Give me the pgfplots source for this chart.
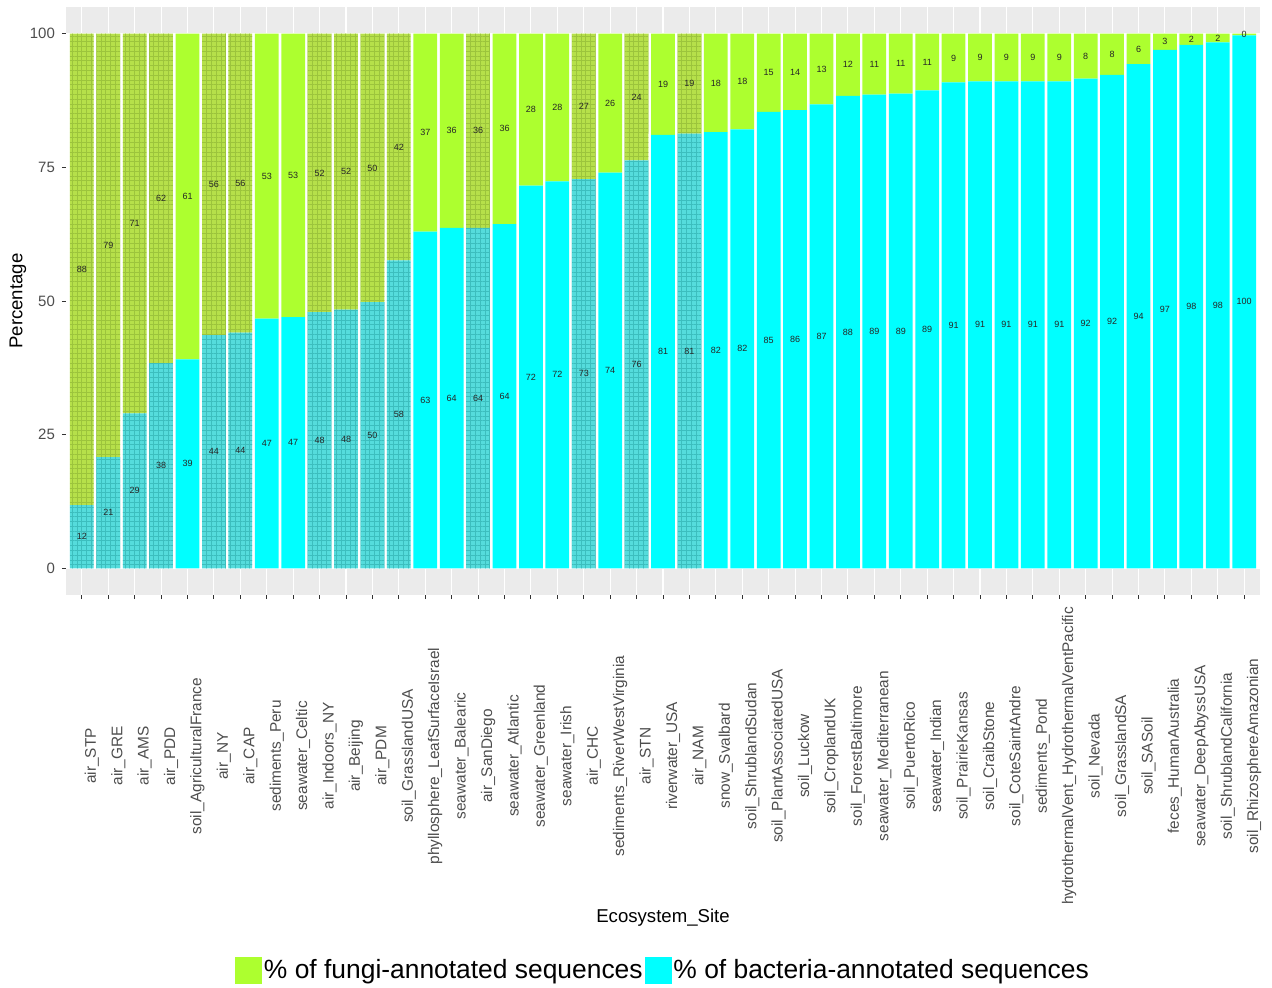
\documentclass[border=0pt]{standalone}
\usepackage{fontspec}
\setmainfont{Liberation Sans}
\usepackage{pgfplots}
\pgfplotsset{compat=1.18}
\usepackage{pgfplotstable}
\usetikzlibrary{patterns.meta}
\definecolor{fgreen}{HTML}{ADFF2F}
\definecolor{bcyan}{HTML}{00FFFF}
\definecolor{tgreen}{HTML}{B6E04A}
\definecolor{tgreenp}{HTML}{9CC43C}
\definecolor{tcyan}{HTML}{55DCDC}
\definecolor{tcyanp}{HTML}{3CBEBE}
\definecolor{panel}{HTML}{EBEBEB}
\definecolor{axtext}{HTML}{4D4D4D}
\pgfplotstableread{
x bac fun lb lf tex
0 11.8 88.2 12 88 1
1 20.8 79.2 21 79 1
2 29.0 71.0 29 71 1
3 38.4 61.6 38 62 1
4 39.1 60.9 39 61 0
5 43.6 56.4 44 56 1
6 44.1 55.9 44 56 1
7 46.7 53.3 47 53 0
8 47.0 53.0 47 53 0
9 47.9 52.1 48 52 1
10 48.4 51.6 48 52 1
11 49.8 50.2 50 50 1
12 57.6 42.4 58 42 1
13 63.0 37.0 63 37 0
14 63.7 36.3 64 36 0
15 63.7 36.3 64 36 1
16 64.4 35.6 64 36 0
17 71.6 28.4 72 28 0
18 72.4 27.6 72 28 0
19 72.8 27.2 73 27 1
20 74.0 26.0 74 26 0
21 76.3 23.7 76 24 1
22 81.1 18.9 81 19 0
23 81.3 18.7 81 19 1
24 81.6 18.4 82 18 0
25 82.1 17.9 82 18 0
26 85.4 14.6 85 15 0
27 85.7 14.3 86 14 0
28 86.8 13.2 87 13 0
29 88.4 11.6 88 12 0
30 88.6 11.4 89 11 0
31 88.8 11.2 89 11 0
32 89.4 10.6 89 11 0
33 90.9 9.1 91 9 0
34 91.1 8.9 91 9 0
35 91.1 8.9 91 9 0
36 91.1 8.9 91 9 0
37 91.1 8.9 91 9 0
38 91.6 8.4 92 8 0
39 92.3 7.7 92 8 0
40 94.3 5.7 94 6 0
41 97.0 3.0 97 3 0
42 97.9 2.1 98 2 0
43 98.4 1.6 98 2 0
44 99.7 0.3 100 0 0
}\data
\pgfplotsset{panelgeom/.style={
  at={(33pt,-297.5pt)}, anchor=south west,
  scale only axis, width=597pt, height=294pt,
  xmin=-0.6, xmax=44.6, ymin=-5, ymax=105}}
\begin{document}
\begin{tikzpicture}
\path[use as bounding box] (0pt,0pt) rectangle (636pt,-493.5pt);
% background panel with grid
\begin{axis}[
  panelgeom,
  axis background/.style={fill=panel},
  axis line style={draw=none},
  xmajorgrids, ymajorgrids, yminorgrids,
  minor ytick={12.5,37.5,62.5,87.5},
  major grid style={white, line width=0.55pt},
  minor grid style={white, line width=0.3pt},
  xtick={0,...,44}, ytick={0,25,50,75,100},
  xticklabels={}, yticklabels={},
  major tick length=0pt, minor tick length=0pt,
]
\fill[white] (axis cs:-0.6,0) rectangle (axis cs:44.6,100);
\end{axis}
% bars
\begin{axis}[
  panelgeom,
  ybar stacked, bar width=0.9,
  axis line style={draw=none},
  xtick={0,...,44},
  xticklabels={air\_STP, air\_GRE, air\_AMS, air\_PDD, soil\_AgriculturalFrance, air\_NY, air\_CAP, sediments\_Peru, seawater\_Celtic, air\_Indoors\_NY, air\_Beijing, air\_PDM, soil\_GrasslandUSA, phyllosphere\_LeafSurfaceIsrael, seawater\_Balearic, air\_SanDiego, seawater\_Atlantic, seawater\_Greenland, seawater\_Irish, air\_CHC, sediments\_RiverWestVirginia, air\_STN, riverwater\_USA, air\_NAM, snow\_Svalbard, soil\_ShrublandSudan, soil\_PlantAssociatedUSA, soil\_Luckow, soil\_CroplandUK, soil\_ForestBaltimore, seawater\_Mediterranean, soil\_PuertoRico, seawater\_Indian, soil\_PrairieKansas, soil\_CraibStone, soil\_CoteSaintAndre, sediments\_Pond, hydrothermalVent\_HydrothermalVentPacific, soil\_Nevada, soil\_GrasslandSA, soil\_SASoil, feces\_HumanAustralia, seawater\_DeepAbyssUSA, soil\_ShrublandCalifornia, soil\_RhizosphereAmazonian},
  ytick={0,25,50,75,100},
  tick align=outside, major tick length=2pt,
  tick style={color=black!80, line width=0.5pt},
  xtick pos=bottom, ytick pos=left,
  /pgf/number format/assume math mode=true,
  yticklabel style={font=\fontsize{7.5}{8}\selectfont, text=axtext},
  xticklabel style={font=\fontsize{7.7}{8}\selectfont, text=axtext, xshift=5pt, yshift=-78.5pt, rotate=90, anchor=center},
  xlabel={Ecosystem\_Site}, ylabel={Percentage},
  every axis x label/.style={at={(rel axis cs:0.5,0)}, anchor=center, yshift=-161.5pt, font=\fontsize{9.3}{11}\selectfont},
  every axis y label/.style={at={(rel axis cs:0,0.5)}, xshift=-24pt, rotate=90, anchor=center, font=\fontsize{9.3}{11}\selectfont},
  legend style={at={(0.5,-0.6378)}, anchor=center, draw=none, fill=none, legend columns=2,
    font=\fontsize{13.2}{15}\selectfont, inner sep=0pt, column sep=0pt,
    nodes={inner sep=1pt}},
  legend cell align=left,
]
\addplot[fill=bcyan, draw=none, forget plot] table[x=x, y expr={(1-\thisrow{tex})*\thisrow{bac}}]{\data};
\addplot[fill=tcyan, draw=none, forget plot, postaction={pattern={Hatch[distance=2.4pt, line width=0.25pt]}, pattern color=tcyanp}] table[x=x, y expr={\thisrow{tex}*\thisrow{bac}}]{\data};
\addplot[fill=fgreen, draw=none, forget plot] table[x=x, y expr={(1-\thisrow{tex})*\thisrow{fun}}]{\data};
\addplot[fill=tgreen, draw=none, forget plot, postaction={pattern={Hatch[distance=2.4pt, line width=0.25pt]}, pattern color=tgreenp}] table[x=x, y expr={\thisrow{tex}*\thisrow{fun}}]{\data};
\addlegendimage{legend image code/.code={\fill[fgreen] (0pt,-6.5pt) rectangle (13pt,6.5pt);}}
\addlegendentry{\% of fungi-annotated sequences}
\addlegendimage{legend image code/.code={\fill[bcyan] (0pt,-6.5pt) rectangle (13pt,6.5pt);}}
\addlegendentry{\% of bacteria-annotated sequences}
\end{axis}
% value labels
\begin{axis}[
  panelgeom,
  hide axis,
  nodes near coords style={anchor=center, font=\fontsize{4.5}{5}\selectfont, text=black!85},
]
\addplot[draw=none, mark=none, nodes near coords, point meta=explicit symbolic] table[x=x, y expr={\thisrow{bac}/2}, meta=lb]{\data};
\addplot[draw=none, mark=none, nodes near coords, point meta=explicit symbolic] table[x=x, y expr={\thisrow{bac}+\thisrow{fun}/2}, meta=lf]{\data};
\end{axis}
\end{tikzpicture}
\end{document}
